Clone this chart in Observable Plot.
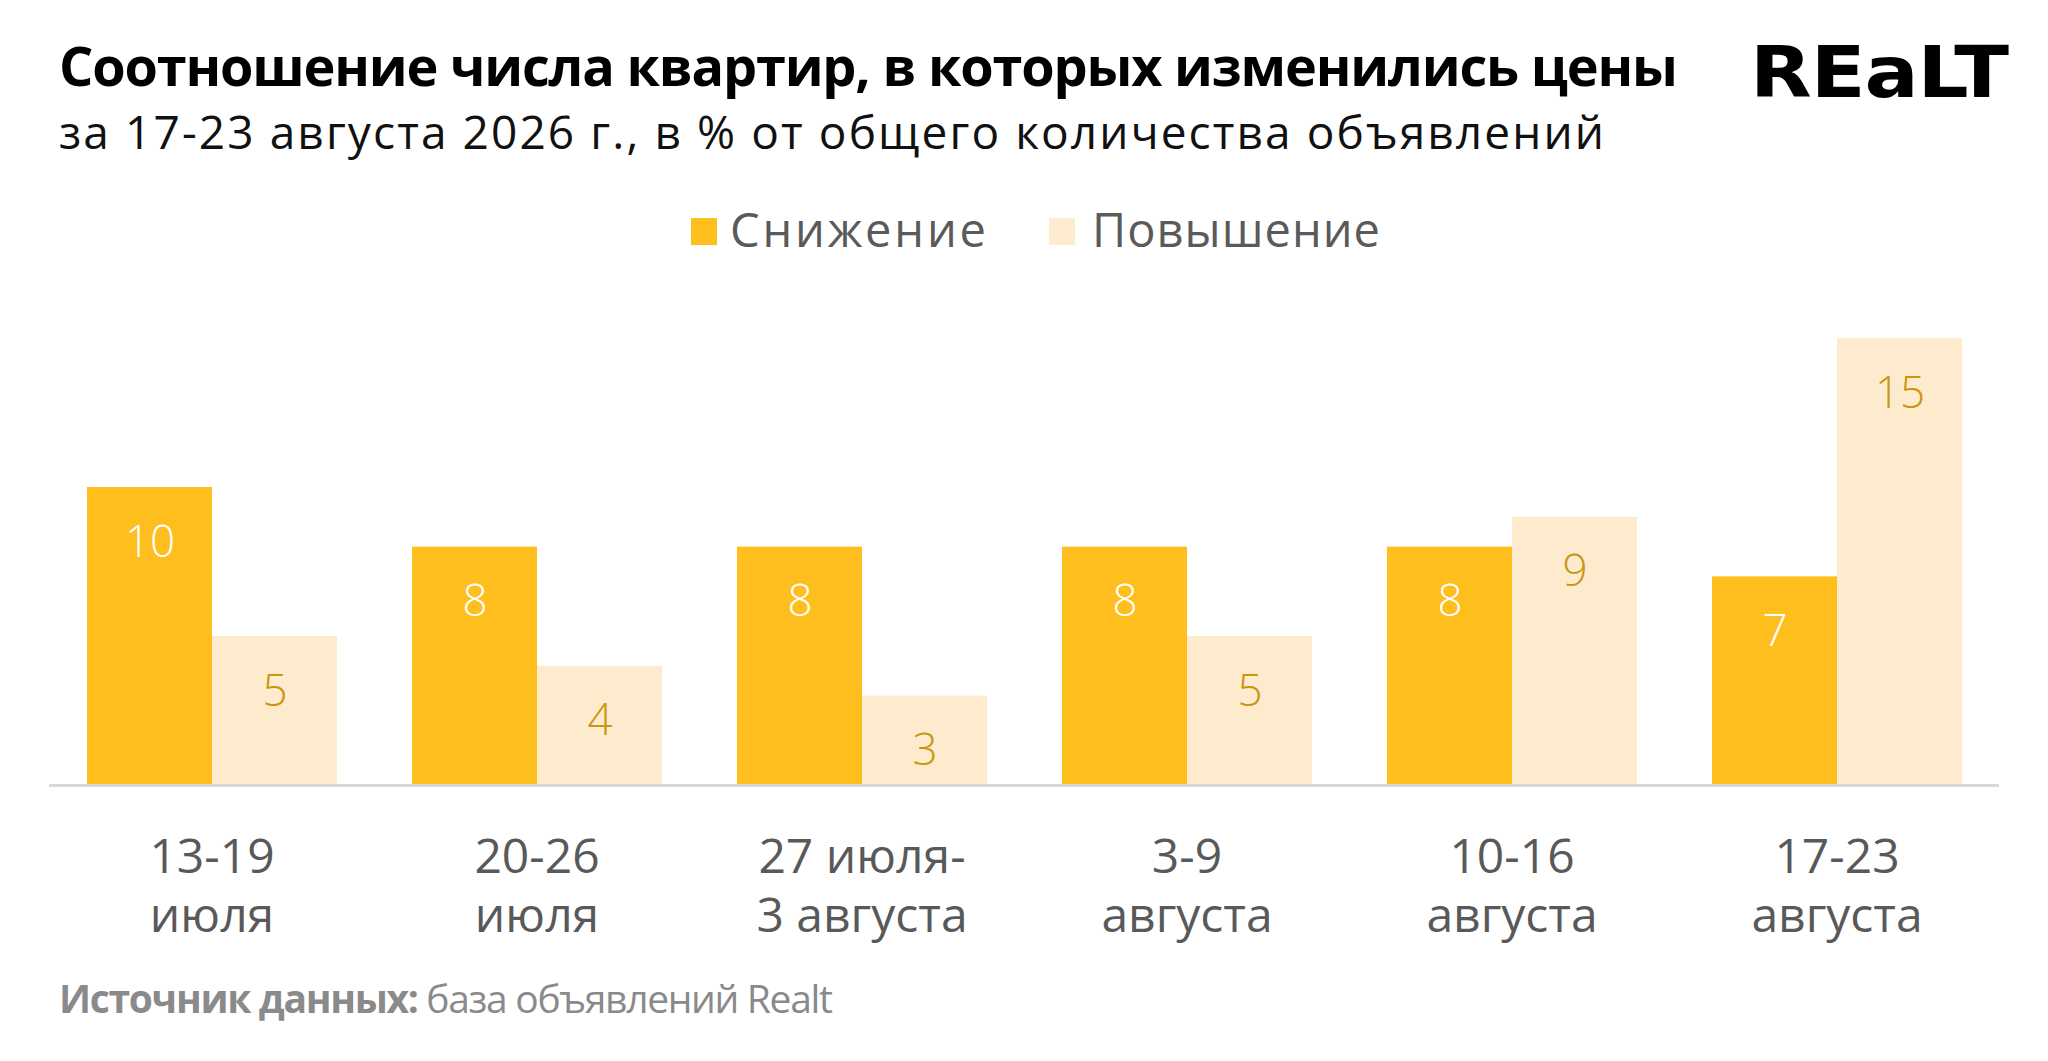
<!DOCTYPE html>
<html><head><meta charset="utf-8">
<script src="https://cdn.jsdelivr.net/npm/d3@7"></script>
<script src="https://cdn.jsdelivr.net/npm/@observablehq/plot@0.6"></script>
<style>
html,body{margin:0;padding:0;background:#fff}
body{width:2048px;height:1061px;position:relative;overflow:hidden;font-family:"Open Sans",sans-serif}
#overlay{position:absolute;left:0;top:0}
#chart{position:absolute;left:0;top:300px}
</style></head><body>
<svg id="overlay" width="2048" height="1061" xmlns="http://www.w3.org/2000/svg"></svg>
<div id="chart"></div>
<script>
const titleText = "Соотношение числа квартир, в которых изменились цены";
const subtitleText = "за 17-23 августа 2026 г., в % от общего количества объявлений";
const logoText = "REaLT";
const sourceLabel = "Источник данных:";
const sourceText = " база объявлений Realt";

const weeks = ["13-19\nиюля", "20-26\nиюля", "27 июля-\n3 августа", "3-9\nавгуста", "10-16\nавгуста", "17-23\nавгуста"];
const series = ["Снижение", "Повышение"];
const decrease = [10, 8, 8, 8, 8, 7];
const increase = [5, 4, 3, 5, 9, 15];
const colors = ["#FDBE1E", "#FEEBCD"];
const valueColors = ["#FFFFFF", "#C8960F"];

const data = weeks.flatMap((w, i) => [
  {week: w, series: series[0], value: decrease[i]},
  {week: w, series: series[1], value: increase[i]}
]);

// Header, legend, footer overlay
const NS = "http://www.w3.org/2000/svg";
const ov = document.getElementById("overlay");
function txt(s, attrs) {
  const t = document.createElementNS(NS, "text");
  for (const k in attrs) t.setAttribute(k, attrs[k]);
  t.textContent = s;
  ov.appendChild(t);
  return t;
}
function rect(attrs) {
  const r = document.createElementNS(NS, "rect");
  for (const k in attrs) r.setAttribute(k, attrs[k]);
  ov.appendChild(r);
}
txt(titleText, {x: 59, y: 86, "font-size": 54, "font-weight": 700, fill: "#000", "font-family": '"Open Sans", sans-serif', textLength: 1619, lengthAdjust: "spacing"});
txt(subtitleText, {x: 59, y: 149, "font-size": 46, "font-weight": 400, fill: "#111", "font-family": '"Open Sans", sans-serif', textLength: 1545, lengthAdjust: "spacing"});

// Logo: heavy wide wordmark, stretched horizontally to its width in the reference
const logo = txt(logoText, {x: 0, y: 0, "font-size": 72, "font-weight": 700, fill: "#000", "font-family": '"DejaVu Sans", sans-serif', "letter-spacing": -1});
const logoW = logo.getComputedTextLength();
logo.setAttribute("transform", `translate(1750,97) scale(${258 / logoW},1)`);

const legendSw = [691, 1049];
const legendTx = [730, 1092];
const legendW = [256, 288];
series.forEach((s, i) => {
  rect({x: legendSw[i], y: 218, width: 26, height: 27, fill: colors[i]});
  txt(s, {x: legendTx[i], y: 247, "font-size": 47, fill: "#5a5a5a", "font-family": '"Open Sans", sans-serif', textLength: legendW[i], lengthAdjust: "spacing"});
});

const foot = document.createElementNS(NS, "text");
foot.setAttribute("x", 59); foot.setAttribute("y", 1013);
foot.setAttribute("font-size", 39); foot.setAttribute("fill", "#8a8a8a");
foot.setAttribute("font-family", '"Open Sans", sans-serif');
foot.setAttribute("textLength", 774); foot.setAttribute("lengthAdjust", "spacing");
const ts1 = document.createElementNS(NS, "tspan"); ts1.setAttribute("font-weight", 700); ts1.textContent = sourceLabel;
const ts2 = document.createElementNS(NS, "tspan"); ts2.setAttribute("font-weight", 400); ts2.textContent = sourceText;
foot.appendChild(ts1); foot.appendChild(ts2);
ov.appendChild(foot);

// Chart
const chart = Plot.plot({
  width: 2048,
  height: 660,
  marginLeft: 48,
  marginRight: 48,
  marginTop: 38,
  marginBottom: 175,
  style: {fontFamily: '"Open Sans", sans-serif', background: "transparent", overflow: "visible"},
  fx: {domain: weeks, padding: 0, axis: null},
  x: {domain: series, paddingInner: 0, paddingOuter: 0.296, axis: null},
  y: {domain: [0, 15], axis: null},
  color: {domain: series, range: colors},
  marks: [
    Plot.barY(data, {fx: "week", x: "series", y: "value", fill: "series", inset: 0}),
    Plot.ruleY([0], {stroke: "#d9d9d9", strokeWidth: 3}),
    Plot.text(data, {filter: d => d.series === series[0], fx: "week", x: "series", y: "value", text: d => String(d.value), dy: 55, lineAnchor: "middle", fill: valueColors[0], fontSize: 44, fontWeight: 300}),
    Plot.text(data, {filter: d => d.series === series[1], fx: "week", x: "series", y: "value", text: d => String(d.value), dy: 55, lineAnchor: "middle", fill: valueColors[1], fontSize: 44, fontWeight: 300}),
    Plot.text(weeks, {fx: d => d, text: d => d, frameAnchor: "bottom", lineAnchor: "top", dy: 45, fontSize: 48, lineHeight: 1.24, fill: "#595959"})
  ]
});
document.getElementById("chart").appendChild(chart);
</script>
</body></html>
